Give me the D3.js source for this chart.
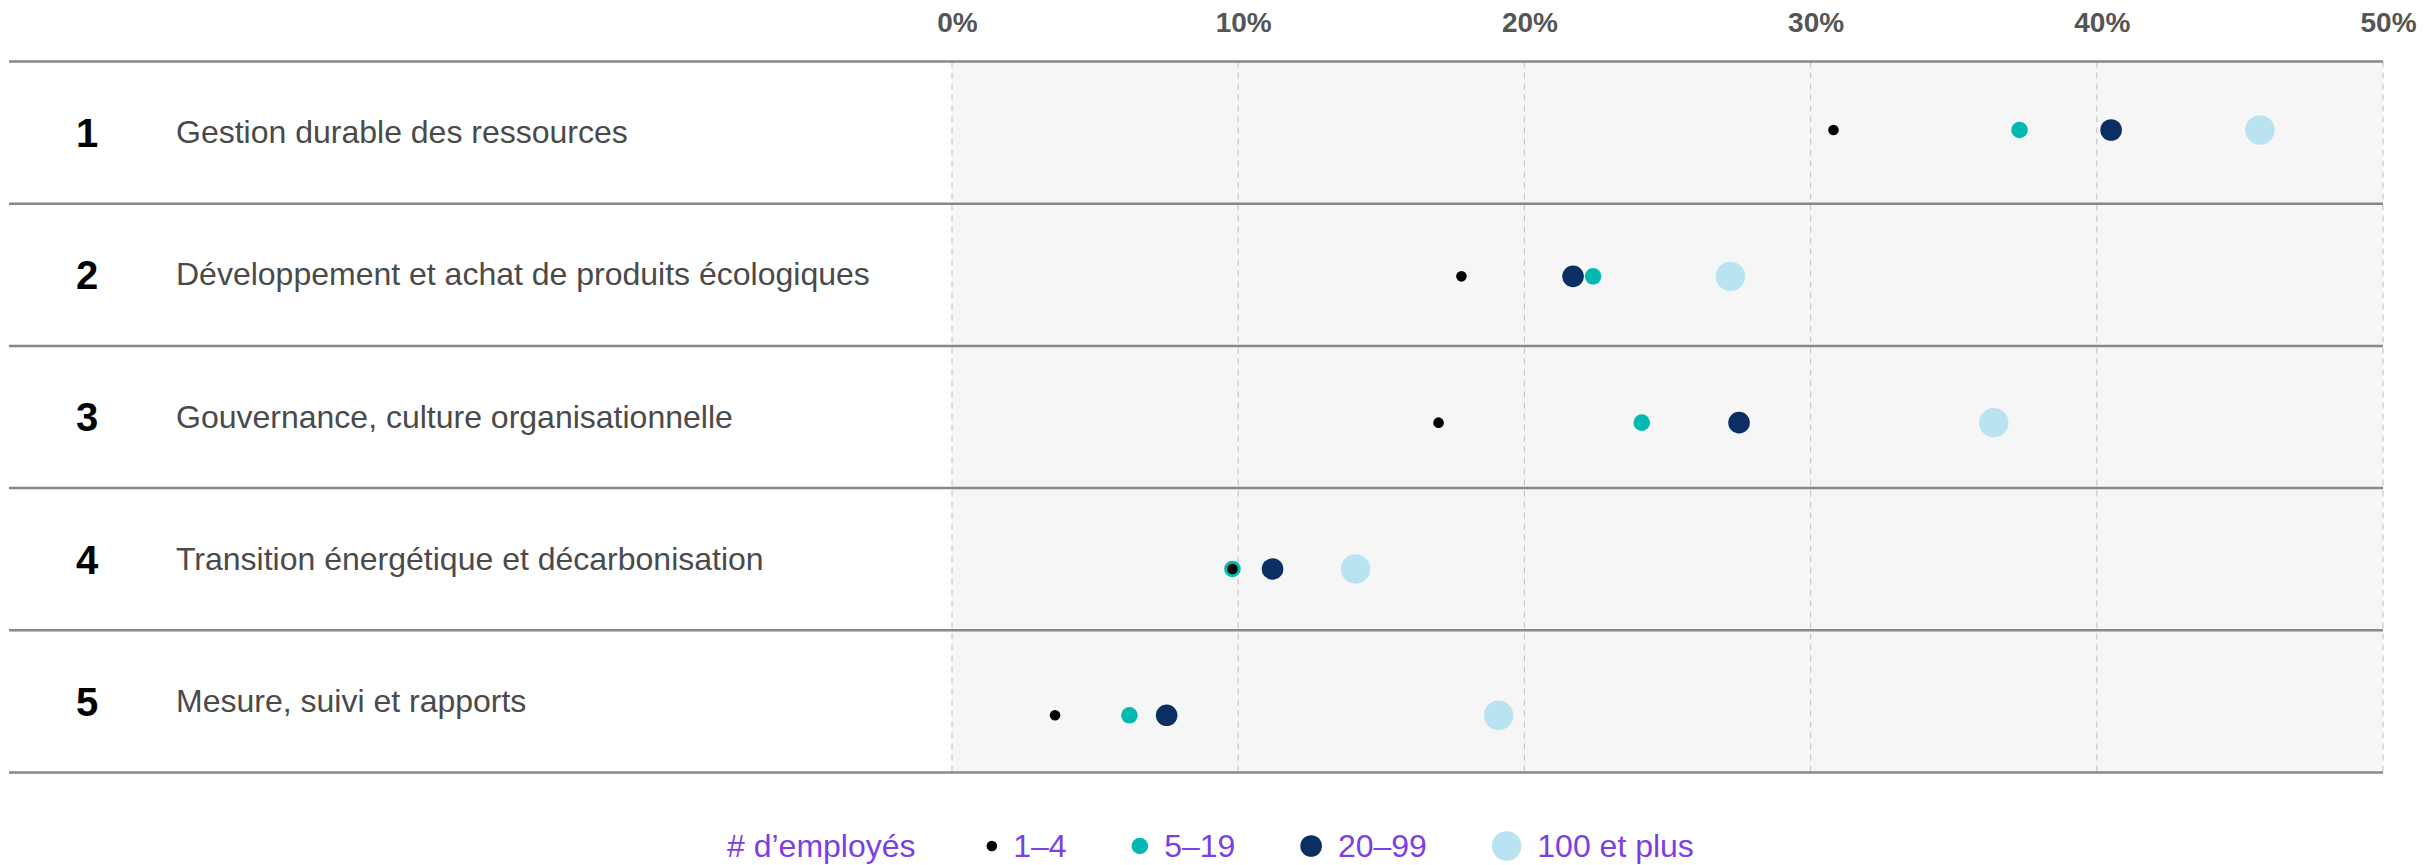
<!DOCTYPE html>
<html lang="fr">
<head>
<meta charset="utf-8">
<title>Priorités par taille d’entreprise</title>
<script src="https://cdn.jsdelivr.net/npm/d3@7"></script>
<style>
  html, body { margin: 0; padding: 0; background: #ffffff; }
  svg { display: block; font-family: "Liberation Sans", Arial, sans-serif; }
</style>
</head>
<body>
<svg id="chart" width="2436" height="865"></svg>
<script>
// ---- Data ----
const ranks = ["1", "2", "3", "4", "5"];
const categories = [
  "Gestion durable des ressources",
  "Développement et achat de produits écologiques",
  "Gouvernance, culture organisationnelle",
  "Transition énergétique et décarbonisation",
  "Mesure, suivi et rapports"
];
const seriesNames = ["1–4", "5–19", "20–99", "100 et plus"];
const values1to4 = [30.8, 17.8, 17.0, 9.8, 3.6];
const values5to19 = [37.3, 22.4, 24.1, 9.8, 6.2];
const values20to99 = [40.5, 21.7, 27.5, 11.2, 7.5];
const values100plus = [45.7, 27.2, 36.4, 14.1, 19.1];
const tickValues = [0, 10, 20, 30, 40, 50];
const legendTitle = "# d’employés";

// ---- Styles ----
const seriesColors = ["#000000", "#00b9b2", "#0b2f62", "#b9e3f0"];
const seriesRadii = [5.3, 8.3, 10.8, 14.7];

const seriesValues = [values1to4, values5to19, values20to99, values100plus];

const svg = d3.select("#chart");

// Layout
const plotLeft = 952, plotRight = 2383;
const ruleLeft = 9;
const rowsTop = 61.5, rowsBottom = 772.5;

const x = d3.scaleLinear().domain([0, 50]).range([plotLeft, plotRight]);
const rowBand = d3.scaleBand().domain(categories).range([rowsTop, rowsBottom]).padding(0);
const yDot = d3.scalePoint().domain(categories).range([130, 715.3]);

// Plot background
svg.append("rect")
  .attr("x", plotLeft).attr("y", rowsTop)
  .attr("width", plotRight - plotLeft).attr("height", rowsBottom - rowsTop)
  .attr("fill", "#f6f6f6");

// Vertical dashed grid
svg.append("g")
  .selectAll("line")
  .data(tickValues)
  .join("line")
  .attr("x1", d => x(d)).attr("x2", d => x(d))
  .attr("y1", rowsTop).attr("y2", rowsBottom)
  .attr("stroke", "#c8c8c8")
  .attr("stroke-width", 1.2)
  .attr("stroke-dasharray", "6,5");

// Top axis labels
const xAxis = d3.axisTop(x)
  .tickValues(tickValues)
  .tickFormat(d => d + "%")
  .tickSize(0)
  .tickPadding(0);
const axisG = svg.append("g")
  .attr("transform", "translate(0,32)")
  .call(xAxis);
axisG.select(".domain").remove();
axisG.selectAll("text")
  .attr("font-family", "\"Liberation Sans\", Arial, sans-serif")
  .attr("font-size", 28)
  .attr("font-weight", "bold")
  .attr("fill", "#555555")
  .attr("dx", 5)
  .attr("dy", 0);

// Horizontal rules between rows
const ruleYs = categories.map(c => rowBand(c)).concat([rowBand(categories[categories.length - 1]) + rowBand.bandwidth()]);
svg.append("g")
  .selectAll("line")
  .data(ruleYs)
  .join("line")
  .attr("x1", ruleLeft).attr("x2", plotRight)
  .attr("y1", d => d).attr("y2", d => d)
  .attr("stroke", "#888888")
  .attr("stroke-width", 2.5);

// Row rank numbers and category labels
const rowG = svg.append("g")
  .selectAll("g")
  .data(categories)
  .join("g")
  .attr("transform", c => `translate(0,${rowBand(c) + rowBand.bandwidth() / 2})`);

rowG.append("text")
  .attr("x", 87)
  .attr("dy", "0.36em")
  .attr("text-anchor", "middle")
  .attr("font-size", 40)
  .attr("font-weight", "bold")
  .attr("fill", "#000000")
  .text((c, i) => ranks[i]);

rowG.append("text")
  .attr("x", 176)
  .attr("dy", "0.33em")
  .attr("font-size", 32)
  .attr("fill", "#4a4a4a")
  .text(c => c);

// Dots: largest companies first so smaller markers sit on top
const dotData = [];
for (let s = seriesValues.length - 1; s >= 0; s--) {
  categories.forEach((c, i) => {
    dotData.push({ cat: c, series: s, value: seriesValues[s][i] });
  });
}
svg.append("g")
  .selectAll("circle")
  .data(dotData)
  .join("circle")
  .attr("cx", d => x(d.value))
  .attr("cy", d => yDot(d.cat))
  .attr("r", d => seriesRadii[d.series])
  .attr("fill", d => seriesColors[d.series]);

// Legend
const legendY = 846;
const legendColor = "#7b3fe4";
const legend = svg.append("g").attr("transform", `translate(727,${legendY})`);
const title = legend.append("text")
  .attr("x", 0).attr("dy", "0.35em")
  .attr("font-size", 32).attr("fill", legendColor)
  .text(legendTitle);
let cursor = title.node().getComputedTextLength() + 71;
seriesNames.forEach((name, s) => {
  const r = seriesRadii[s];
  legend.append("circle")
    .attr("cx", cursor + r).attr("cy", 0)
    .attr("r", r).attr("fill", seriesColors[s]);
  const t = legend.append("text")
    .attr("x", cursor + 2 * r + 16).attr("dy", "0.35em")
    .attr("font-size", 32).attr("fill", legendColor)
    .text(name);
  cursor = cursor + 2 * r + 16 + t.node().getComputedTextLength() + 65;
});
</script>
</body>
</html>
